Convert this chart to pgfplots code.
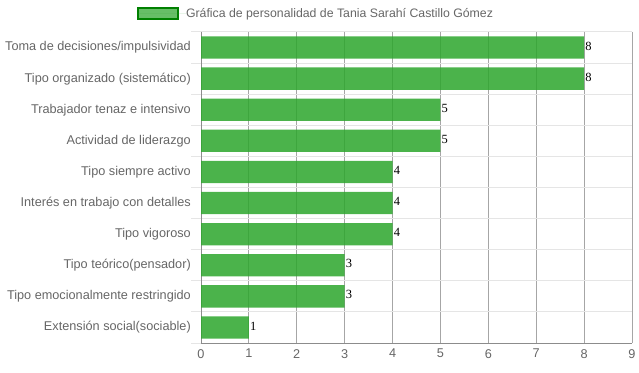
\documentclass[border=0pt]{standalone}
\usepackage{pgfplots}
\pgfplotsset{compat=1.18}
\usepackage{fontspec}
\setmainfont{Liberation Sans}
\newfontfamily\serifnum{Liberation Serif}
\definecolor{txt}{HTML}{666666}
\definecolor{barg}{RGB}{44,166,44}
\definecolor{legb}{RGB}{0,128,0}
\begin{document}
\begin{tikzpicture}[x=1pt,y=1pt]
\path[use as bounding box] (0,0) rectangle (639,372);
\begin{axis}[
  at={(201pt,29pt)}, anchor=south west,
  scale only axis, width=431pt, height=311pt,
  xbar, bar width=22.3pt,
  xmin=0, xmax=9, xtick={0,...,9},
  ymin=-0.5, ymax=9.5, y dir=reverse,
  ytick={0,...,9},
  yticklabels={Toma de decisiones/impulsividad, Tipo organizado (sistemático), Trabajador tenaz e intensivo, Actividad de liderazgo, Tipo siempre activo, Interés en trabajo con detalles, Tipo vigoroso, Tipo teórico(pensador), Tipo emocionalmente restringido, Extensión social(sociable)},
  minor ytick={-0.5,0.5,...,9.5},
  yminorgrids=true, xmajorgrids=true,
  minor grid style={black!10, line width=1pt},
  major grid style={black!35, line width=0.8pt},
  minor tick style={black!10, line width=1pt},
  minor tick length=10pt, major tick length=0pt,
  tick align=outside,
  axis x line*=bottom, axis y line*=left,
  axis line style={black!45, line width=0.8pt, -},
  /pgf/number format/assume math mode=true,
  tick label style={font=\fontsize{12.7}{15}\selectfont, text=txt},
  yticklabel style={inner sep=0pt, xshift=-10pt},
  xticklabel style={inner sep=0pt, yshift=-6pt},
  nodes near coords,
  nodes near coords style={anchor=west, inner sep=1pt, yshift=1.5pt, font=\serifnum\fontsize{12.5}{14}\selectfont, text=black},
  legend style={at={(0.2645,1.058)}, anchor=center, draw=none, fill=none, font=\fontsize{12.3}{15}\selectfont, text=txt, inner sep=0pt, nodes={inner sep=0pt}},
  legend image code/.code={\draw[fill=barg!85!white, draw=legb, line width=2pt] (0pt,-5.5pt) rectangle (40pt,5.5pt); \path (0pt,0pt) -- (48pt,0pt);},
]
\addplot[fill=barg, fill opacity=0.85, draw=none, text opacity=1] coordinates {
(8,0) (8,1) (5,2) (5,3) (4,4) (4,5) (4,6) (3,7) (3,8) (1,9)};
\addlegendentry{Gráfica de personalidad de Tania Sarahí Castillo Gómez}
\end{axis}
\end{tikzpicture}
\end{document}
